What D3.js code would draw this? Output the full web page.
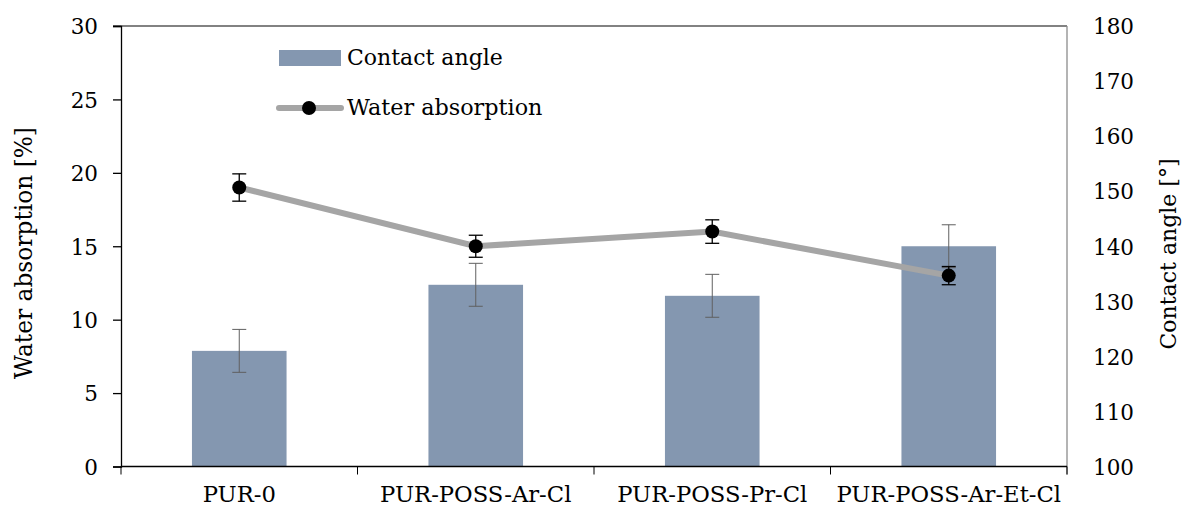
<!DOCTYPE html>
<html><head><meta charset="utf-8">
<script src="https://cdn.jsdelivr.net/npm/d3@7"></script>
<style>
body{margin:0;background:#fff;}
text{font-family:"DejaVu Serif","Liberation Serif",serif !important;fill:#000;}
</style></head>
<body><svg id="c" width="1184" height="514"></svg>
<script>
const categories = ["PUR-0","PUR-POSS-Ar-Cl","PUR-POSS-Pr-Cl","PUR-POSS-Ar-Et-Cl"];
const contactAngle = [121.0, 133.0, 131.0, 140.0];
const contactAngleErr = [3.9, 3.9, 3.9, 3.9];
const waterAbsorption = [19.0, 15.0, 16.0, 13.0];
const waterAbsorptionErr = [0.93, 0.75, 0.8, 0.62];
const leftTicks = [0,5,10,15,20,25,30];
const rightTicks = [100,110,120,130,140,150,160,170,180];

const W=1184,H=514;
const m={l:121,r:117,t:26,b:47.5};
const svg=d3.select("#c");
const x=d3.scaleBand().domain(categories).range([m.l,W-m.r]).paddingInner(0).paddingOuter(0);
const yL=d3.scaleLinear().domain([0,30]).range([H-m.b,m.t]);
const yR=d3.scaleLinear().domain([100,180]).range([H-m.b,m.t]);
const barW=x.bandwidth()*0.4;
const cx=d=>x(d)+x.bandwidth()/2;

svg.append("line").attr("x1",m.l-8).attr("x2",W-m.r).attr("y1",m.t).attr("y2",m.t).attr("stroke","#595959").attr("stroke-width",1.3);
svg.append("line").attr("x1",W-m.r).attr("x2",W-m.r).attr("y1",m.t).attr("y2",H-m.b+8).attr("stroke","#8c8c8c").attr("stroke-width",1.3);

svg.append("g").selectAll("rect").data(categories).join("rect")
  .attr("x",d=>cx(d)-barW/2).attr("width",barW)
  .attr("y",(d,i)=>yR(contactAngle[i])).attr("height",(d,i)=>yR(100)-yR(contactAngle[i]))
  .attr("fill","#8497b0");

const be=svg.append("g").attr("stroke","#606060").attr("stroke-width",1);
categories.forEach((c,i)=>{
  const x0=cx(c),y1=yR(contactAngle[i]+contactAngleErr[i]),y2=yR(contactAngle[i]-contactAngleErr[i]);
  be.append("line").attr("x1",x0).attr("x2",x0).attr("y1",y1).attr("y2",y2);
  be.append("line").attr("x1",x0-7).attr("x2",x0+7).attr("y1",y1).attr("y2",y1);
  be.append("line").attr("x1",x0-7).attr("x2",x0+7).attr("y1",y2).attr("y2",y2);
});

const gL=svg.append("g").attr("transform",`translate(${m.l},0)`)
  .call(d3.axisLeft(yL).tickValues(leftTicks).tickSize(8).tickPadding(15));
gL.attr("font-family",null);
gL.select(".domain").attr("stroke","#000").attr("stroke-width",1.3);
gL.selectAll(".tick line").attr("stroke","#000").attr("stroke-width",1.3);
gL.selectAll(".tick text").style("font-size","21.5px").attr("dy","0.36em");

const gR=svg.append("g").attr("transform",`translate(${W-m.r},0)`)
  .call(d3.axisRight(yR).tickValues(rightTicks).tickSize(0).tickPadding(26));
gR.attr("font-family",null);
gR.select(".domain").remove();
gR.selectAll(".tick text").style("font-size","21.5px").attr("dy","0.36em");

const gB=svg.append("g").attr("transform",`translate(0,${H-m.b})`);
gB.append("line").attr("x1",m.l).attr("x2",W-m.r).attr("stroke","#000").attr("stroke-width",1.3);
const bounds=d3.range(categories.length+1).map(i=>m.l+i*x.step());
gB.selectAll(".tk").data(bounds).join("line").attr("x1",d=>d).attr("x2",d=>d).attr("y1",0).attr("y2",8).attr("stroke","#000").attr("stroke-width",1);
gB.selectAll(".cl").data(categories).join("text").attr("x",d=>cx(d)).attr("y",35).attr("text-anchor","middle").style("font-size","22.7px").text(d=>d);

const line=d3.line().x((d,i)=>cx(categories[i])).y(d=>yL(d));
svg.append("path").datum(waterAbsorption).attr("d",line).attr("fill","none").attr("stroke","#a5a5a5").attr("stroke-width",6);

const pe=svg.append("g").attr("stroke","#000").attr("stroke-width",1.3);
categories.forEach((c,i)=>{
  const x0=cx(c),y1=yL(waterAbsorption[i]+waterAbsorptionErr[i]),y2=yL(waterAbsorption[i]-waterAbsorptionErr[i]);
  pe.append("line").attr("x1",x0).attr("x2",x0).attr("y1",y1).attr("y2",y2);
  pe.append("line").attr("x1",x0-7).attr("x2",x0+7).attr("y1",y1).attr("y2",y1);
  pe.append("line").attr("x1",x0-7).attr("x2",x0+7).attr("y1",y2).attr("y2",y2);
});
svg.append("g").selectAll("circle").data(waterAbsorption).join("circle")
  .attr("cx",(d,i)=>cx(categories[i])).attr("cy",d=>yL(d)).attr("r",7).attr("fill","#000");

svg.append("text").attr("transform",`translate(32,253) rotate(-90)`).attr("text-anchor","middle").style("font-size","23.3px").text("Water absorption [%]");
svg.append("text").attr("transform",`translate(1176,254) rotate(-90)`).attr("text-anchor","middle").style("font-size","22px").text("Contact angle [°]");

const lg=svg.append("g");
lg.append("rect").attr("x",279).attr("y",50).attr("width",62).attr("height",16).attr("fill","#8497b0");
lg.append("text").attr("x",347).attr("y",65).style("font-size","22px").text("Contact angle");
lg.append("line").attr("x1",279).attr("x2",341).attr("y1",108).attr("y2",108).attr("stroke","#a5a5a5").attr("stroke-width",6).attr("stroke-linecap","round");
lg.append("circle").attr("cx",309).attr("cy",108).attr("r",7).attr("fill","#000");
lg.append("text").attr("x",347).attr("y",115).style("font-size","22.3px").text("Water absorption");
</script></body></html>
